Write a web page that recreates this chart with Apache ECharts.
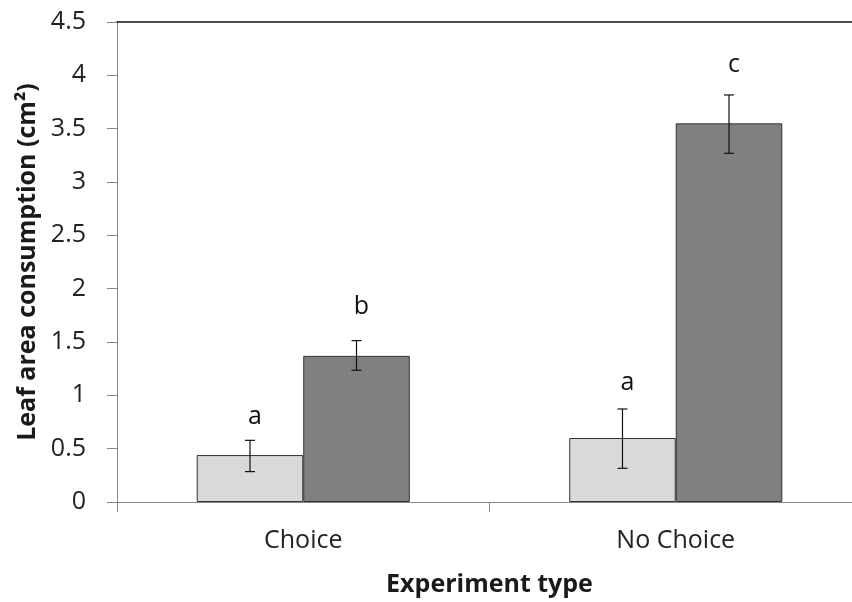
<!DOCTYPE html>
<html>
<head>
<meta charset="utf-8">
<script src="https://cdn.jsdelivr.net/npm/echarts@6/dist/echarts.min.js"></script>
<style>html,body{margin:0;padding:0;background:#fff;overflow:hidden;width:852px;height:602px;}#chart{width:862px;height:602px;}</style>
</head>
<body>
<div id="chart"></div>
<script>
const categories = ['Choice', 'No Choice'];
const lightValues = [0.44, 0.60];
const darkValues = [1.37, 3.55];
const lightErrLow = [0.285, 0.316];
const lightErrHigh = [0.578, 0.872];
const darkErrLow = [1.235, 3.269];
const darkErrHigh = [1.513, 3.816];
const lightLetters = ['a', 'a'];
const darkLetters = ['b', 'c'];
const lightLetterY = [0.80, 1.12];
const darkLetterY = [1.83, 4.10];
const yTicks = { min: 0, max: 4.5, interval: 0.5 };

const CAT_GAP = 0.428;
const errData = [];
for (let i = 0; i < categories.length; i++) {
  errData.push([i, lightErrLow[i], lightErrHigh[i], lightLetterY[i], 0, lightLetters[i]]);
  errData.push([i, darkErrLow[i], darkErrHigh[i], darkLetterY[i], 1, darkLetters[i]]);
}

const chart = echarts.init(document.getElementById('chart'));
const font = '"Open Sans", "Noto Sans", sans-serif';
chart.setOption({
  animation: false,
  backgroundColor: '#fff',
  grid: { left: 117, right: 0, top: 22, bottom: 100, outerBoundsMode: 'none' },
  xAxis: [{
    type: 'category',
    data: categories,
    name: 'Experiment type',
    nameLocation: 'middle',
    nameGap: 70,
    nameTextStyle: { fontFamily: font, fontSize: 25, fontWeight: 'bold', color: '#1a1a1a' },
    axisLine: { lineStyle: { color: '#868686', width: 1 } },
    axisTick: { show: true, alignWithLabel: false, length: 10, lineStyle: { color: '#868686' } },
    axisLabel: { fontFamily: font, fontSize: 25, color: '#222', margin: 26 }
  }, {
    type: 'category',
    data: categories,
    position: 'top',
    axisLine: { show: true, lineStyle: { color: '#111', width: 1.5 } },
    axisTick: { show: false },
    axisLabel: { show: false }
  }],
  yAxis: {
    type: 'value',
    min: yTicks.min,
    max: yTicks.max,
    interval: yTicks.interval,
    name: 'Leaf area consumption (cm²)',
    nameLocation: 'middle',
    nameGap: 76,
    nameTextStyle: { fontFamily: font, fontSize: 25, fontWeight: 'bold', color: '#1a1a1a' },
    axisLine: { show: true, lineStyle: { color: '#868686', width: 1 } },
    axisTick: { show: true, length: 10, lineStyle: { color: '#868686' } },
    splitLine: { show: false },
    axisLabel: { fontFamily: font, fontSize: 25, color: '#222', margin: 31 }
  },
  series: [{
    type: 'bar',
    name: 'Light',
    data: lightValues,
    barGap: '0%',
    barCategoryGap: (CAT_GAP * 100) + '%',
    itemStyle: { color: '#d9d9d9', borderColor: '#333', borderWidth: 1 }
  }, {
    type: 'bar',
    name: 'Dark',
    data: darkValues,
    barGap: '0%',
    barCategoryGap: (CAT_GAP * 100) + '%',
    itemStyle: { color: '#808080', borderColor: '#333', borderWidth: 1 }
  }, {
    type: 'custom',
    name: 'Error',
    data: errData,
    z: 10,
    renderItem: function (params, api) {
      const cat = api.value(0);
      const band = api.size([1, 0])[0];
      const bw = band * (1 - CAT_GAP) / 2;
      const which = api.value(4);
      const x = api.coord([cat, 0])[0] + (which === 0 ? -bw / 2 : bw / 2);
      const yl = api.coord([cat, api.value(1)])[1];
      const yh = api.coord([cat, api.value(2)])[1];
      const yt = api.coord([cat, api.value(3)])[1];
      const cap = 5;
      const ls = { stroke: '#111', lineWidth: 1.2 };
      return {
        type: 'group',
        children: [
          { type: 'line', shape: { x1: x, y1: yl, x2: x, y2: yh }, style: ls },
          { type: 'line', shape: { x1: x - cap, y1: yl, x2: x + cap, y2: yl }, style: ls },
          { type: 'line', shape: { x1: x - cap, y1: yh, x2: x + cap, y2: yh }, style: ls },
          { type: 'text', x: x + 5, y: yt, style: { text: api.value(5), fontFamily: font, fontSize: 25, fill: '#111', align: 'center', verticalAlign: 'middle' } }
        ]
      };
    }
  }]
});
</script>
</body>
</html>
